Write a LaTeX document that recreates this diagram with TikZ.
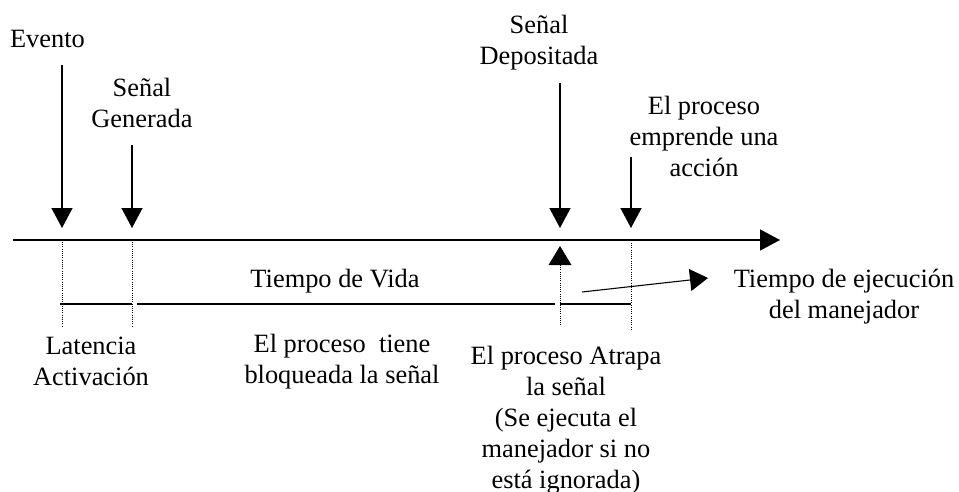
\documentclass[tikz,border=0pt]{standalone}
\usepackage{fontspec}
\setmainfont{Liberation Serif}
\usetikzlibrary{arrows.meta}
\tikzset{
  lbl/.style={anchor=base, align=center, inner sep=0pt, font=\fontsize{26.4}{31}\selectfont},
  solidline/.style={line width=1.3pt},
  arrowline/.style={line width=1.3pt, -{Triangle[length=20pt,width=21pt]}},
  dotline/.style={line width=0.9pt, dash pattern=on 0.9pt off 1.3pt},
  headfill/.style={fill=black}
}
\begin{document}
\begin{tikzpicture}[x=1pt,y=-1pt]
\useasboundingbox (0,0) rectangle (959,492);
% coordinates
\coordinate (ax0) at (13,240);
\coordinate (ax1) at (780,240);
\coordinate (evTop) at (62,65);   \coordinate (evTip) at (62,228);
\coordinate (sgTop) at (132,145); \coordinate (sgTip) at (132,228);
\coordinate (sdTop) at (560,83);  \coordinate (sdTip) at (560,228);
\coordinate (paTop) at (631,157); \coordinate (paTip) at (631,228);
\coordinate (upTip) at (560,246); \coordinate (upL) at (548.5,265); \coordinate (upR) at (571.5,265);
\coordinate (upBase) at (560,265);
\coordinate (d1a) at (62,242);  \coordinate (d1b) at (62,326);
\coordinate (d2a) at (132,242); \coordinate (d2b) at (132,327);
\coordinate (d3b) at (560,325);
\coordinate (d4a) at (631,243); \coordinate (d4b) at (631,330);
\coordinate (h1a) at (60,304);  \coordinate (h1b) at (132,304);
\coordinate (h2a) at (137,304); \coordinate (h2b) at (555,304);
\coordinate (h3a) at (560,304); \coordinate (h3b) at (631,304);
\coordinate (slA) at (582,292); \coordinate (slB) at (708,278);
% labels (anchor = baseline of last line)
\node[lbl] (evento) at (47.5,48) {Evento};
\node[lbl] (generada) at (142,128) {Señal\\Generada};
\node[lbl] (depositada) at (539,65) {Señal\\Depositada};
\node[lbl] (accion) at (704,176) {El proceso\\emprende una\\acción};
\node[lbl] (vida) at (335,287) {Tiempo de Vida};
\node[lbl] (ejec) at (844,318) {Tiempo de ejecución\\del manejador};
\node[lbl] (latencia) at (91,385) {Latencia\\Activación};
\node[lbl] (bloqueada) at (342,383) {El proceso\ \ tiene\\bloqueada la señal};
\node[lbl] (atrapa) at (566,488) {El proceso Atrapa\\la señal\\(Se ejecuta el\\manejador si no\\está ignorada)};
% axis and arrows
\draw[arrowline] (ax0) -- (ax1);
\draw[arrowline] (evTop) -- (evTip);
\draw[arrowline] (sgTop) -- (sgTip);
\draw[arrowline] (sdTop) -- (sdTip);
\draw[arrowline] (paTop) -- (paTip);
\fill[headfill] (upL) -- (upR) -- (upTip) -- cycle;
\draw[arrowline, line width=1.1pt, -{Triangle[length=18pt,width=22pt]}] (slA) -- (slB);
% dotted
\draw[dotline] (d1a) -- (d1b);
\draw[dotline] (d2a) -- (d2b);
\draw[dotline] (upBase) -- (d3b);
\draw[dotline] (d4a) -- (d4b);
% intervals
\draw[solidline] (h1a) -- (h1b);
\draw[solidline] (h2a) -- (h2b);
\draw[solidline] (h3a) -- (h3b);
\end{tikzpicture}
\end{document}
